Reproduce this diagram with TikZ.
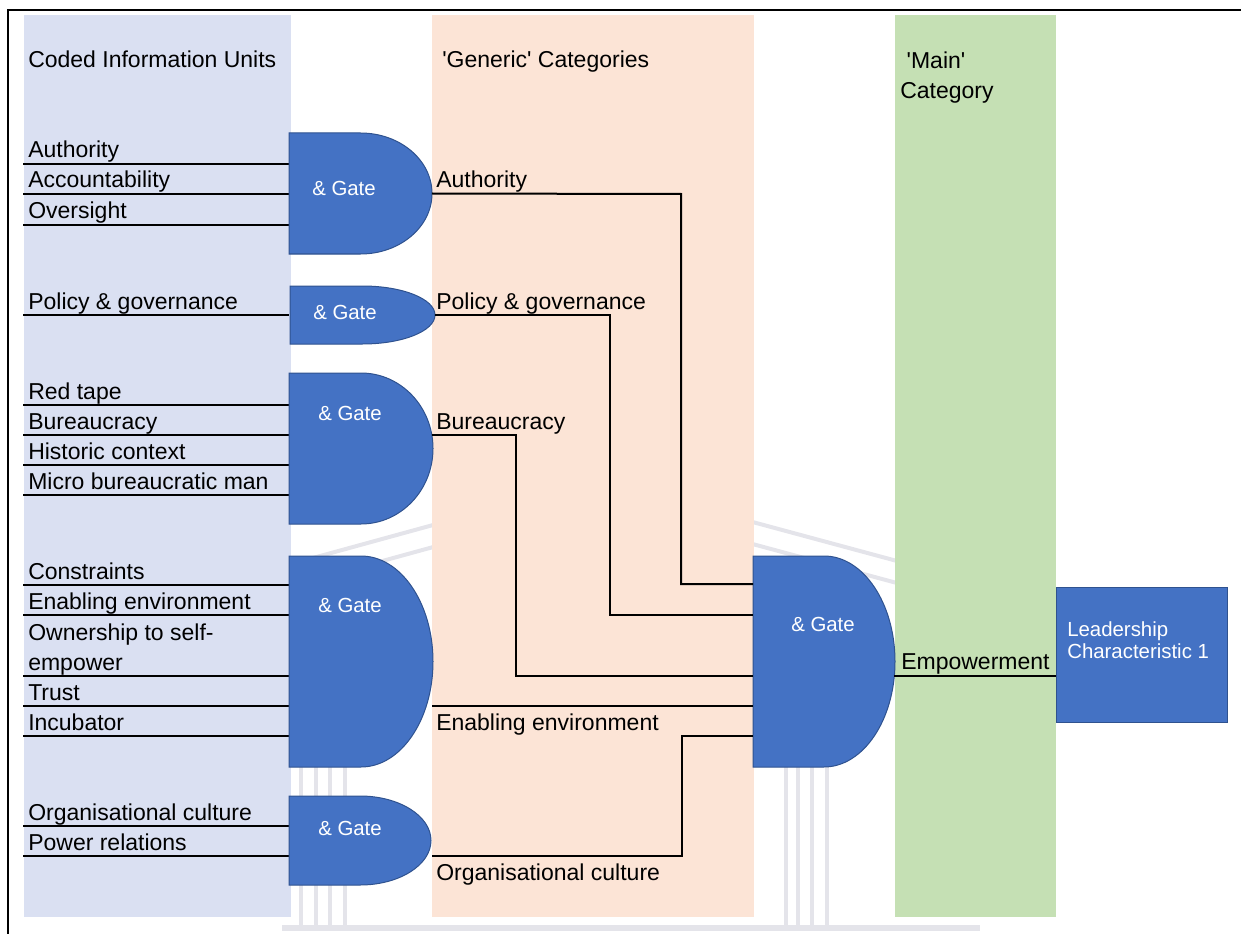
\documentclass[tikz,border=0pt]{standalone}
\usepackage{fontspec}
\setmainfont{Liberation Sans}
\definecolor{unitcol}{HTML}{DAE0F2}
\definecolor{genericcol}{HTML}{FCE4D6}
\definecolor{maincol}{HTML}{C5E0B4}
\definecolor{gateblue}{HTML}{4472C4}
\definecolor{gateedge}{HTML}{2F528F}
\definecolor{wmgray}{HTML}{E4E4EA}

% AND-gate (delay) shape: flat left half, half-ellipse on the right.
% #1 name, #2 left x, #3 top y, #4 width, #5 height
\newcommand\gateshape[5]{%
  \path[gatefill] (#2,#3) -- ({#2+#4/2},#3)
    .. controls ({#2+#4/2+0.5523*#4/2},#3) and ({#2+#4},{#3+#5/2-0.5523*#5/2}) .. ({#2+#4},{#3+#5/2})
    .. controls ({#2+#4},{#3+#5/2+0.5523*#5/2}) and ({#2+#4/2+0.5523*#4/2},{#3+#5}) .. ({#2+#4/2},{#3+#5})
    -- (#2,{#3+#5}) -- cycle;
  \coordinate (#1-out) at ({#2+#4},{#3+#5/2});
}

\begin{document}
\begin{tikzpicture}[x=0.75pt,y=-0.75pt,
  lab/.style={anchor=base west, inner sep=0pt, align=left,
    font=\fontsize{17.25pt}{22.5pt}\selectfont},
  gatetxt/.style={text=white, inner sep=0pt,
    font=\fontsize{15.3pt}{16.5pt}\selectfont},
  wire/.style={line width=1.5pt},
  gatefill/.style={fill=gateblue, draw=gateedge, line width=0.75pt},
  wmark/.style={draw=wmgray, line width=3pt},
]
\useasboundingbox (0,0) rectangle (1241,934);

% faint background emblem
\begin{scope}[wmark]
  \draw (240,578) -- (597,480) -- (960,578);
  \draw (255,596) -- (597,502) -- (945,596);
  \foreach \x in {301,316,330,345,786,798,812,827}
    \draw[line width=2.5pt] (\x,760) -- (\x,926);
  \draw[line width=4pt] (282,928) -- (980,928);
\end{scope}

% frame
\draw[line width=1.5pt] (8,934) -- (8,10) -- (1241,10);

% column bands
\fill[unitcol]    (24,15)  rectangle (291,917);
\fill[genericcol] (432,15) rectangle (754,917);
\fill[maincol]    (895,15) rectangle (1056,917);

% column headings
\node[lab] (hunits) at (28,68) {Coded Information Units};
\node[lab] (hgeneric) at (442,68) {\textquotesingle Generic\textquotesingle\ Categories};
\node[lab] (hmain) at (900,99) {\ \textquotesingle Main\textquotesingle\\Category};

% coded information units with their input lines
\foreach \y/\t in {164/Authority,194/Accountability,225/Oversight,
    315/Policy \& governance,
    405/Red tape,435/Bureaucracy,465/Historic context,495/Micro bureaucratic man,
    585/Constraints,615/Enabling environment,706/Trust,736/Incubator,
    826/Organisational culture,856/Power relations}{
  \draw[wire] (23,\y) -- (289,\y);
  \node[lab] at (28,\y-6) {\t};
}
\draw[wire] (23,676) -- (289,676);
\node[lab] (own) at (28,670) {Ownership to self-\\empower};

% gates
\gateshape{g1}{289}{133}{143}{121}
\gateshape{g2}{290}{286}{145}{58}
\gateshape{g3}{289}{373}{144}{151}
\gateshape{g4}{289}{556}{144}{211}
\gateshape{g5}{289}{796}{142}{89}
\gateshape{mg}{753}{556}{142}{211}

\node[gatetxt] (t1) at (344,188) {\& Gate};
\node[gatetxt] (t2) at (345,312) {\& Gate};
\node[gatetxt] (t3) at (350,413) {\& Gate};
\node[gatetxt] (t4) at (350,605) {\& Gate};
\node[gatetxt] (t5) at (350,828) {\& Gate};
\node[gatetxt] (tm) at (823,624) {\& Gate};

% taps on the gate outlines and main gate inputs
\coordinate (g3-tap) at (432,435);
\coordinate (g4-tap) at (432,706);
\coordinate (g5-tap) at (432,856);
\coordinate (mg-in1) at (753,584);
\coordinate (mg-in2) at (753,615);
\coordinate (mg-in3) at (753,676);
\coordinate (mg-in4) at (753,706);
\coordinate (mg-in5) at (753,736);
\coordinate (mg-tap) at (894,676);

% generic categories into the main gate
\draw[wire] (g1-out) -- (681,194) -- (681,584) -- (mg-in1);
\draw[wire] (g2-out) -- (610,315) -- (610,615) -- (mg-in2);
\draw[wire] (g3-tap) -- (516,435) -- (516,676) -- (mg-in3);
\draw[wire] (g4-tap) -- (mg-in4);
\draw[wire] (g5-tap) -- (682,856) -- (682,736) -- (mg-in5);

\node[lab] (cauth) at (436,188) {Authority};
\node[lab] (cpol) at (436,309) {Policy \& governance};
\node[lab] (cbur) at (436,429) {Bureaucracy};
\node[lab] (cenv) at (436,730) {Enabling environment};
\node[lab] (ccul) at (436,880) {Organisational culture};

% main category and result
\node[draw=gateedge, fill=gateblue, line width=0.75pt, inner sep=0pt,
      minimum width=128.25pt, minimum height=101.25pt] (lc) at (1141.5,654.5) {};
\node[gatetxt, anchor=base west, align=left] (lctext) at (1067,658)
  {Leadership\\Characteristic 1};
\draw[wire] (mg-tap) -- (lc.west |- mg-tap);
\node[lab] (emp) at (901,669) {Empowerment};

\end{tikzpicture}
\end{document}
